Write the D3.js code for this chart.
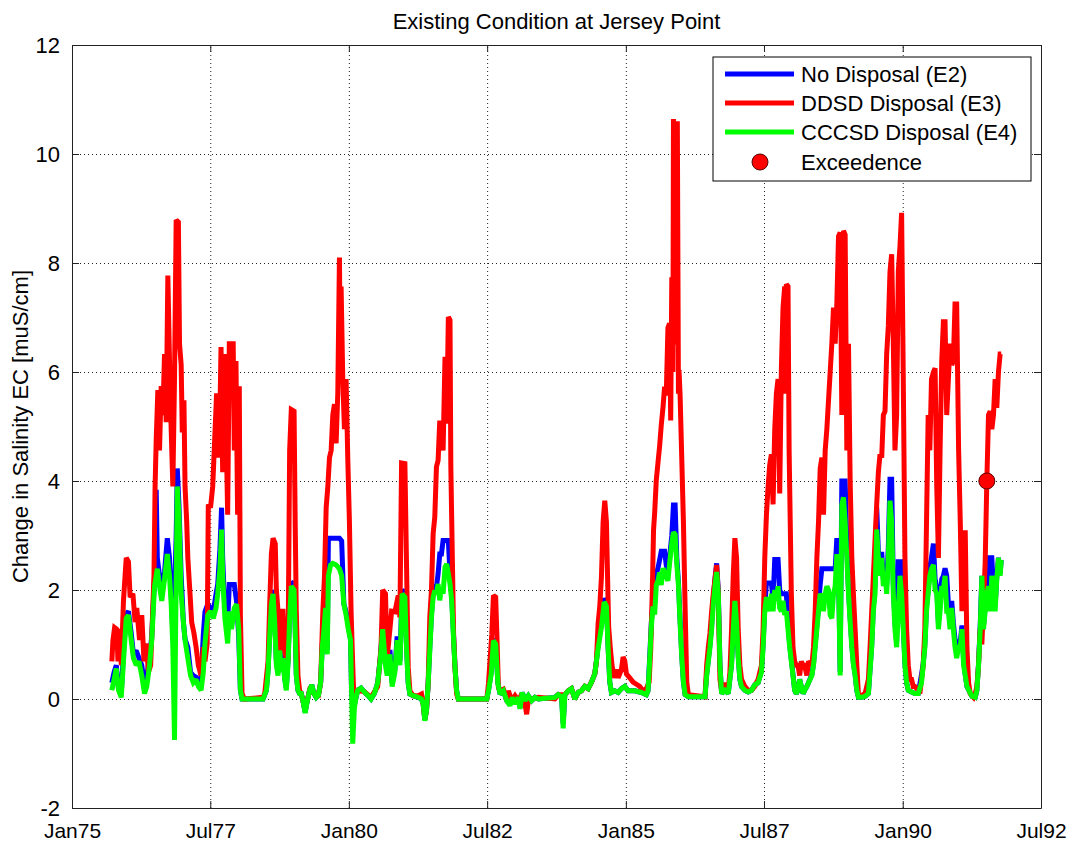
<!DOCTYPE html>
<html>
<head>
<meta charset="utf-8">
<script src="https://cdn.jsdelivr.net/npm/d3@7"></script>
<style>
  body { margin: 0; background: #fff; }
  text { font-family: Arial, "Liberation Sans", Helvetica, sans-serif; fill: #000; }
</style>
</head>
<body>
<svg id="chart" width="1074" height="844"></svg>
<script>
const TITLE = "Existing Condition at Jersey Point";
const Y_LABEL = "Change in Salinity EC [muS/cm]";
const SERIES_NAMES = ["No Disposal (E2)", "DDSD Disposal (E3)", "CCCSD Disposal (E4)"];
const MARKER_NAME = "Exceedence";
const X_TICKS = [[1975, 0], [1977, 6], [1980, 0], [1982, 6], [1985, 0], [1987, 6], [1990, 0], [1992, 6]];
const Y_TICKS = [-2, 0, 2, 4, 6, 8, 10, 12];

// [decimal year, change in EC]
const e2Points = [
  [1975.72,0.30],[1975.76,0.49],[1975.80,0.62],[1975.84,0.20],[1975.89,0.10],[1975.93,0.85],[1975.98,1.55],[1976.02,1.61],
  [1976.07,1.21],[1976.11,0.82],[1976.16,0.89],[1976.21,0.75],[1976.26,0.62],[1976.31,0.23],[1976.35,0.43],[1976.40,0.75],
  [1976.44,1.15],[1976.49,2.26],[1976.52,3.84],[1976.54,2.59],[1976.58,2.26],[1976.62,2.00],[1976.67,2.33],[1976.72,2.95],
  [1976.76,2.59],[1976.79,1.93],[1976.82,1.20],[1976.85,1.93],[1976.88,3.00],[1976.90,4.23],[1976.93,3.57],[1976.97,2.26],
  [1977.01,1.41],[1977.04,1.10],[1977.09,0.95],[1977.14,0.49],[1977.19,0.43],[1977.24,0.40],[1977.28,0.30],[1977.33,0.36],
  [1977.37,1.18],[1977.40,1.60],[1977.45,1.74],[1977.50,1.67],[1977.55,1.60],[1977.60,1.93],[1977.63,2.10],[1977.67,2.75],
  [1977.70,3.51],[1977.72,2.59],[1977.76,1.61],[1977.81,1.41],[1977.84,2.10],[1977.88,2.10],[1977.93,2.10],[1977.97,1.80],
  [1978.01,1.15],[1978.04,0.16],[1978.07,0.00],[1978.45,0.00],[1978.51,0.16],[1978.54,0.55],[1978.57,1.20],[1978.60,1.80],
  [1978.63,2.00],[1978.66,1.50],[1978.69,0.70],[1978.72,0.50],[1978.75,0.95],[1978.78,0.55],[1978.81,0.80],[1978.84,0.40],
  [1978.87,0.20],[1978.90,0.70],[1978.93,1.55],[1978.96,2.15],[1979.01,2.10],[1979.03,1.35],[1979.05,0.45],[1979.08,0.16],
  [1979.11,0.10],[1979.14,0.10],[1979.17,-0.03],[1979.21,-0.24],[1979.25,-0.03],[1979.29,0.16],[1979.33,0.26],[1979.37,0.10],
  [1979.41,0.03],[1979.45,0.07],[1979.49,0.30],[1979.52,1.00],[1979.55,1.35],[1979.58,1.75],[1979.61,0.90],[1979.63,2.95],
  [1979.67,2.95],[1979.71,2.95],[1979.77,2.95],[1979.83,2.95],[1979.87,2.90],[1979.91,1.74],[1979.95,1.60],[1979.99,1.35],
  [1980.03,1.10],[1980.05,0.10],[1980.07,-0.10],[1980.10,-0.10],[1980.13,0.03],[1980.16,0.16],[1980.22,0.20],[1980.28,0.13],
  [1980.34,0.07],[1980.40,0.00],[1980.46,0.10],[1980.52,0.30],[1980.57,0.80],[1980.61,1.35],[1980.66,0.70],[1980.69,0.50],
  [1980.74,0.90],[1980.78,0.30],[1980.83,0.55],[1980.87,1.15],[1980.92,0.70],[1980.96,2.00],[1981.01,1.95],[1981.04,0.95],
  [1981.07,0.30],[1981.10,0.09],[1981.16,0.06],[1981.25,0.03],[1981.31,0.00],[1981.34,-0.09],[1981.37,-0.38],[1981.40,-0.21],
  [1981.43,0.28],[1981.46,0.95],[1981.49,1.55],[1981.52,1.95],[1981.55,2.10],[1981.58,2.05],[1981.61,2.30],[1981.64,2.66],
  [1981.67,2.66],[1981.70,2.91],[1981.735,2.91],[1981.765,2.91],[1981.795,2.91],[1981.825,2.30],[1981.855,1.90],[1981.885,1.25],
  [1981.915,0.60],[1981.945,0.15],[1981.975,0.00],[1982.49,0.00],[1982.52,0.15],[1982.57,0.50],[1982.61,1.10],[1982.65,1.05],
  [1982.69,0.30],[1982.73,0.09],[1982.79,0.15],[1982.85,-0.03],[1982.91,-0.10],[1982.95,0.03],[1983.00,-0.09],[1983.06,0.03],
  [1983.09,-0.15],[1983.13,0.12],[1983.18,-0.03],[1983.24,0.06],[1983.30,-0.03],[1983.36,0.03],[1983.42,0.00],[1983.72,0.03],
  [1983.78,0.08],[1983.84,0.04],[1983.87,-0.45],[1983.90,0.08],[1983.96,0.15],[1984.02,0.19],[1984.08,0.00],[1984.14,0.12],
  [1984.20,0.15],[1984.26,0.23],[1984.32,0.19],[1984.38,0.31],[1984.44,0.46],[1984.47,0.70],[1984.50,1.00],[1984.56,1.40],
  [1984.61,1.85],[1984.65,1.75],[1984.68,0.95],[1984.71,0.31],[1984.74,0.12],[1984.80,0.15],[1984.86,0.12],[1984.92,0.19],
  [1984.98,0.23],[1985.04,0.15],[1985.16,0.15],[1985.28,0.12],[1985.37,0.08],[1985.40,0.15],[1985.43,0.75],[1985.46,1.40],
  [1985.49,1.80],[1985.52,1.75],[1985.55,2.30],[1985.58,2.40],[1985.61,2.55],[1985.64,2.71],[1985.67,2.71],[1985.70,2.71],
  [1985.73,2.45],[1985.76,2.30],[1985.79,2.60],[1985.83,3.00],[1985.86,3.56],[1985.89,3.56],[1985.92,2.60],[1985.95,2.15],
  [1985.98,1.45],[1986.01,0.80],[1986.04,0.31],[1986.07,0.08],[1986.13,0.04],[1986.43,0.04],[1986.46,0.45],[1986.49,0.72],
  [1986.52,1.00],[1986.55,1.35],[1986.58,1.85],[1986.61,2.20],[1986.64,2.49],[1986.67,2.00],[1986.70,0.65],[1986.73,0.10],
  [1986.79,0.16],[1986.85,0.10],[1986.91,0.65],[1986.94,1.35],[1986.97,1.85],[1987.00,1.45],[1987.03,0.80],[1987.06,0.36],
  [1987.09,0.23],[1987.15,0.16],[1987.21,0.13],[1987.27,0.16],[1987.33,0.26],[1987.39,0.30],[1987.45,0.52],[1987.48,1.00],
  [1987.51,1.70],[1987.54,2.13],[1987.57,2.13],[1987.60,2.13],[1987.63,2.13],[1987.66,1.80],[1987.69,2.56],[1987.72,2.56],
  [1987.75,2.56],[1987.78,2.00],[1987.81,1.93],[1987.84,1.93],[1987.87,1.93],[1987.90,1.93],[1987.93,1.40],[1987.96,1.00],
  [1987.99,0.72],[1988.02,0.45],[1988.05,0.16],[1988.08,0.10],[1988.11,0.16],[1988.14,0.36],[1988.17,0.23],[1988.20,0.10],
  [1988.23,0.16],[1988.27,0.23],[1988.30,0.30],[1988.36,0.45],[1988.39,0.65],[1988.42,1.00],[1988.45,1.35],[1988.48,1.70],
  [1988.51,2.10],[1988.54,2.39],[1988.57,2.39],[1988.60,2.39],[1988.63,2.39],[1988.66,2.39],[1988.69,2.39],[1988.72,2.39],
  [1988.75,2.39],[1988.78,2.39],[1988.81,2.95],[1988.84,2.40],[1988.87,0.50],[1988.90,4.00],[1988.93,4.00],[1988.96,4.00],
  [1988.99,2.80],[1989.02,2.00],[1989.05,1.50],[1989.08,1.00],[1989.11,0.65],[1989.14,0.45],[1989.17,0.16],[1989.20,0.03],
  [1989.26,0.03],[1989.32,0.05],[1989.38,0.10],[1989.44,1.00],[1989.47,1.70],[1989.50,2.10],[1989.53,3.51],[1989.56,2.70],
  [1989.59,2.40],[1989.62,2.70],[1989.65,2.20],[1989.68,2.45],[1989.71,2.10],[1989.74,2.80],[1989.77,4.03],[1989.80,4.03],
  [1989.83,2.10],[1989.86,1.40],[1989.89,1.05],[1989.92,2.52],[1989.95,2.52],[1989.98,2.52],[1990.01,1.35],[1990.04,0.65],
  [1990.07,0.30],[1990.10,0.16],[1990.16,0.13],[1990.22,0.10],[1990.28,0.10],[1990.34,0.45],[1990.37,0.65],[1990.40,1.00],
  [1990.43,1.70],[1990.46,2.00],[1990.49,2.40],[1990.52,2.60],[1990.555,2.85],[1990.585,2.20],[1990.615,2.05],[1990.645,1.40],
  [1990.675,1.75],[1990.705,2.20],[1990.735,2.26],[1990.765,2.40],[1990.795,2.26],[1990.825,1.75],[1990.855,1.40],[1990.885,1.80],
  [1990.915,1.40],[1990.945,1.10],[1990.975,0.85],[1991.01,1.05],[1991.04,1.05],[1991.07,1.35],[1991.10,0.70],[1991.13,0.45],
  [1991.16,0.23],[1991.25,0.05],[1991.31,0.03],[1991.34,0.16],[1991.37,0.65],[1991.40,1.35],[1991.43,2.26],[1991.46,1.35],
  [1991.49,1.70],[1991.52,2.00],[1991.55,2.59],[1991.58,2.59],[1991.61,2.59],[1991.64,2.00],[1991.67,1.70],[1991.70,2.25],
  [1991.73,2.59],[1991.76,2.30],[1991.78,2.55]
];

const e3Points = [
  [1975.72,0.69],[1975.74,1.08],[1975.77,1.31],[1975.81,1.28],[1975.83,0.69],[1975.86,1.28],[1975.89,0.62],[1975.93,1.80],
  [1975.98,2.59],[1976.02,2.52],[1976.05,1.87],[1976.10,1.93],[1976.14,1.41],[1976.17,1.67],[1976.22,1.08],[1976.26,1.54],
  [1976.30,0.69],[1976.34,1.02],[1976.38,0.49],[1976.42,0.62],[1976.45,1.41],[1976.48,2.26],[1976.50,3.90],[1976.52,4.75],
  [1976.55,5.67],[1976.58,4.56],[1976.61,5.74],[1976.64,5.21],[1976.67,6.33],[1976.70,5.08],[1976.73,7.77],[1976.76,6.20],
  [1976.79,4.95],[1976.82,3.90],[1976.85,5.87],[1976.88,8.79],[1976.92,8.75],[1976.94,6.52],[1976.97,6.13],[1976.99,4.89],
  [1977.02,5.48],[1977.04,3.90],[1977.07,3.25],[1977.09,2.59],[1977.13,1.93],[1977.16,1.41],[1977.20,1.21],[1977.24,0.95],
  [1977.28,0.62],[1977.33,0.43],[1977.37,0.95],[1977.40,0.69],[1977.44,1.02],[1977.46,3.57],[1977.50,3.51],[1977.54,3.90],
  [1977.57,4.62],[1977.61,5.61],[1977.64,4.43],[1977.67,5.21],[1977.69,6.46],[1977.72,4.16],[1977.75,6.33],[1977.78,5.08],
  [1977.81,3.38],[1977.84,6.52],[1977.91,6.52],[1977.93,4.56],[1977.96,6.20],[1977.99,3.38],[1978.02,5.74],[1978.04,1.54],
  [1978.07,0.10],[1978.11,0.00],[1978.45,0.03],[1978.48,0.10],[1978.54,0.69],[1978.57,1.74],[1978.60,2.66],[1978.63,2.95],
  [1978.67,2.85],[1978.69,2.00],[1978.72,1.61],[1978.75,0.82],[1978.78,1.61],[1978.81,1.61],[1978.84,0.89],[1978.87,0.75],
  [1978.90,0.69],[1978.93,4.56],[1978.96,5.31],[1979.01,5.28],[1979.03,3.25],[1979.05,1.61],[1979.08,0.43],[1979.11,0.16],
  [1979.14,0.10],[1979.21,-0.20],[1979.29,0.16],[1979.37,0.10],[1979.45,0.07],[1979.49,0.30],[1979.50,0.62],[1979.53,1.61],
  [1979.56,2.26],[1979.59,3.51],[1979.62,3.90],[1979.65,4.43],[1979.68,4.56],[1979.71,5.21],[1979.74,5.41],[1979.77,4.69],
  [1979.80,5.61],[1979.83,8.10],[1979.845,6.20],[1979.86,7.57],[1979.89,5.87],[1979.92,4.95],[1979.95,5.87],[1979.98,4.43],
  [1980.01,3.25],[1980.04,1.61],[1980.07,0.62],[1980.09,0.03],[1980.16,0.16],[1980.28,0.13],[1980.40,0.03],[1980.52,0.23],
  [1980.58,0.95],[1980.61,2.00],[1980.66,1.93],[1980.69,0.75],[1980.74,1.28],[1980.77,1.61],[1980.83,1.60],[1980.89,1.90],
  [1980.92,1.50],[1980.95,4.33],[1981.01,4.32],[1981.04,2.42],[1981.07,0.58],[1981.10,0.15],[1981.16,0.06],[1981.25,0.06],
  [1981.31,0.09],[1981.34,-0.09],[1981.37,-0.37],[1981.40,-0.21],[1981.43,0.28],[1981.46,1.50],[1981.49,2.00],[1981.52,3.03],
  [1981.55,3.34],[1981.58,4.26],[1981.61,4.38],[1981.64,5.11],[1981.67,4.90],[1981.70,4.56],[1981.735,6.28],[1981.765,5.05],
  [1981.795,7.01],[1981.825,6.95],[1981.84,4.26],[1981.87,2.42],[1981.89,1.19],[1981.915,0.58],[1981.945,0.09],[1981.975,0.00],
  [1982.49,0.00],[1982.52,0.28],[1982.58,1.19],[1982.61,1.90],[1982.65,1.87],[1982.675,1.07],[1982.70,0.21],[1982.73,0.15],
  [1982.79,0.18],[1982.82,0.09],[1982.85,-0.03],[1982.88,0.15],[1982.94,-0.03],[1983.00,0.06],[1983.06,-0.03],[1983.12,0.09],
  [1983.18,-0.09],[1983.21,-0.28],[1983.24,-0.03],[1983.30,0.00],[1983.42,0.03],[1983.72,0.00],[1983.78,0.08],[1983.90,0.08],
  [1983.96,0.15],[1984.02,0.19],[1984.08,0.00],[1984.14,0.12],[1984.20,0.15],[1984.26,0.23],[1984.32,0.19],[1984.38,0.31],
  [1984.44,0.46],[1984.47,0.70],[1984.50,1.39],[1984.53,1.70],[1984.56,2.24],[1984.59,3.25],[1984.62,3.64],[1984.65,3.25],
  [1984.67,2.24],[1984.69,1.32],[1984.72,0.93],[1984.75,0.62],[1984.79,0.39],[1984.83,0.54],[1984.86,0.39],[1984.92,0.54],
  [1984.95,0.77],[1984.98,0.70],[1985.01,0.46],[1985.07,0.39],[1985.13,0.31],[1985.19,0.27],[1985.25,0.23],[1985.31,0.15],
  [1985.37,0.19],[1985.42,0.31],[1985.45,0.93],[1985.48,2.09],[1985.50,3.10],[1985.52,3.41],[1985.55,4.02],[1985.58,4.33],
  [1985.61,4.64],[1985.64,5.03],[1985.67,5.34],[1985.70,5.73],[1985.73,5.57],[1985.76,6.81],[1985.79,6.89],[1985.81,5.11],
  [1985.83,7.74],[1985.85,6.00],[1985.86,10.64],[1985.88,6.50],[1985.90,9.50],[1985.91,7.20],[1985.93,10.60],[1985.95,5.60],
  [1985.96,6.04],[1985.98,5.57],[1986.01,4.41],[1986.04,3.25],[1986.07,1.70],[1986.10,0.31],[1986.13,0.08],[1986.43,0.04],
  [1986.46,0.62],[1986.49,0.95],[1986.52,1.21],[1986.55,1.61],[1986.58,1.93],[1986.61,2.20],[1986.64,2.46],[1986.67,1.93],
  [1986.70,0.36],[1986.73,0.16],[1986.76,0.30],[1986.79,0.10],[1986.82,0.30],[1986.85,0.16],[1986.88,0.49],[1986.91,1.28],
  [1986.94,2.26],[1986.97,2.95],[1987.00,2.59],[1987.03,1.28],[1987.06,0.62],[1987.09,0.36],[1987.15,0.23],[1987.21,0.16],
  [1987.27,0.16],[1987.33,0.23],[1987.36,0.30],[1987.39,0.36],[1987.45,0.62],[1987.48,1.28],[1987.51,2.59],[1987.54,3.38],
  [1987.57,3.90],[1987.60,4.30],[1987.63,4.49],[1987.66,3.57],[1987.69,4.95],[1987.72,5.61],[1987.75,5.87],[1987.78,3.77],
  [1987.81,6.07],[1987.84,7.18],[1987.87,7.57],[1987.885,5.60],[1987.90,7.61],[1987.93,7.57],[1987.95,4.56],[1987.97,3.25],
  [1987.99,1.93],[1988.02,0.95],[1988.05,0.69],[1988.08,0.62],[1988.11,0.62],[1988.14,0.43],[1988.17,0.69],[1988.20,0.62],
  [1988.23,0.62],[1988.27,0.43],[1988.30,0.69],[1988.36,0.62],[1988.39,0.95],[1988.42,1.61],[1988.45,2.59],[1988.48,3.25],
  [1988.51,4.23],[1988.54,4.43],[1988.57,3.38],[1988.60,4.56],[1988.63,4.95],[1988.66,5.48],[1988.69,6.00],[1988.72,6.52],
  [1988.75,7.18],[1988.78,6.52],[1988.81,7.25],[1988.84,8.49],[1988.87,8.56],[1988.90,5.21],[1988.93,8.59],[1988.96,8.52],
  [1988.99,4.56],[1989.02,6.52],[1989.05,4.00],[1989.08,2.60],[1989.11,1.90],[1989.14,1.28],[1989.17,0.62],[1989.20,0.07],
  [1989.26,0.07],[1989.32,0.10],[1989.38,0.36],[1989.41,0.95],[1989.44,1.61],[1989.47,2.26],[1989.50,2.92],[1989.53,3.57],
  [1989.56,4.16],[1989.59,4.49],[1989.62,4.43],[1989.65,5.21],[1989.68,5.28],[1989.71,6.33],[1989.74,6.85],[1989.77,7.84],
  [1989.80,8.16],[1989.83,6.52],[1989.86,4.56],[1989.89,5.21],[1989.92,7.84],[1989.95,8.30],[1989.98,8.92],[1990.01,5.87],
  [1990.04,2.59],[1990.07,1.28],[1990.10,0.62],[1990.13,0.36],[1990.16,0.36],[1990.19,0.23],[1990.22,0.23],[1990.28,0.16],
  [1990.31,0.10],[1990.34,0.36],[1990.37,0.62],[1990.40,1.28],[1990.43,3.25],[1990.46,5.21],[1990.49,4.56],[1990.52,5.87],
  [1990.555,6.00],[1990.585,6.07],[1990.615,3.90],[1990.645,2.59],[1990.675,4.56],[1990.705,6.20],[1990.735,6.92],[1990.765,6.92],
  [1990.795,5.21],[1990.825,5.87],[1990.855,6.52],[1990.885,6.13],[1990.915,6.20],[1990.945,7.25],[1990.975,7.25],[1991.01,4.56],
  [1991.04,3.25],[1991.07,1.61],[1991.10,3.05],[1991.13,3.05],[1991.16,0.95],[1991.19,0.30],[1991.22,0.10],[1991.28,0.03],
  [1991.31,0.10],[1991.34,0.23],[1991.37,0.62],[1991.40,1.28],[1991.43,1.00],[1991.49,2.50],[1991.52,4.00],[1991.55,5.21],
  [1991.58,5.28],[1991.61,4.95],[1991.64,5.21],[1991.67,5.87],[1991.70,5.34],[1991.73,6.00],[1991.76,6.33],[1991.78,6.33]
];

const e4Points = [
  [1975.72,0.16],[1975.76,0.36],[1975.80,0.56],[1975.84,0.16],[1975.89,0.03],[1975.93,0.69],[1975.98,1.48],[1976.02,1.54],
  [1976.07,1.08],[1976.11,0.75],[1976.16,0.62],[1976.21,0.69],[1976.26,0.43],[1976.31,0.10],[1976.35,0.23],[1976.40,0.62],
  [1976.44,1.08],[1976.49,2.07],[1976.54,2.39],[1976.58,2.07],[1976.62,1.80],[1976.67,2.20],[1976.72,2.66],[1976.76,2.26],
  [1976.79,1.74],[1976.82,0.95],[1976.85,-0.75],[1976.87,1.28],[1976.90,3.90],[1976.93,3.38],[1976.97,1.93],[1977.01,1.41],
  [1977.04,1.08],[1977.09,0.75],[1977.14,0.43],[1977.19,0.30],[1977.24,0.36],[1977.28,0.23],[1977.33,0.16],[1977.37,0.49],
  [1977.40,1.02],[1977.45,1.54],[1977.50,1.61],[1977.55,1.48],[1977.60,1.67],[1977.63,1.93],[1977.67,2.39],[1977.70,3.11],
  [1977.72,2.26],[1977.76,1.48],[1977.81,1.02],[1977.84,1.61],[1977.88,1.28],[1977.93,1.67],[1977.97,1.74],[1978.01,1.28],
  [1978.04,0.16],[1978.07,0.00],[1978.45,0.00],[1978.51,0.16],[1978.54,0.49],[1978.57,1.15],[1978.60,1.74],[1978.63,1.93],
  [1978.66,1.41],[1978.69,0.62],[1978.72,0.43],[1978.75,0.89],[1978.78,0.49],[1978.81,0.75],[1978.84,0.36],[1978.87,0.16],
  [1978.90,0.62],[1978.93,1.48],[1978.96,2.07],[1979.01,2.00],[1979.03,1.28],[1979.05,0.43],[1979.08,0.16],[1979.11,0.10],
  [1979.14,0.10],[1979.17,-0.03],[1979.21,-0.26],[1979.25,-0.03],[1979.29,0.16],[1979.33,0.26],[1979.37,0.10],[1979.41,0.03],
  [1979.45,0.07],[1979.49,0.30],[1979.52,0.95],[1979.55,1.28],[1979.58,1.67],[1979.61,0.82],[1979.63,2.26],[1979.67,2.46],
  [1979.71,2.49],[1979.77,2.46],[1979.83,2.39],[1979.87,2.26],[1979.91,1.74],[1979.95,1.54],[1979.99,1.28],[1980.03,1.08],
  [1980.05,0.10],[1980.07,-0.82],[1980.10,-0.16],[1980.13,0.03],[1980.16,0.16],[1980.22,0.20],[1980.28,0.13],[1980.34,0.07],
  [1980.40,0.00],[1980.46,0.10],[1980.52,0.30],[1980.57,0.75],[1980.61,1.28],[1980.66,0.62],[1980.69,0.43],[1980.74,0.82],
  [1980.78,0.23],[1980.83,0.49],[1980.87,1.08],[1980.92,0.62],[1980.96,1.93],[1981.01,1.87],[1981.04,0.89],[1981.07,0.28],
  [1981.10,0.09],[1981.16,0.06],[1981.25,0.03],[1981.31,0.00],[1981.34,-0.09],[1981.37,-0.40],[1981.40,-0.21],[1981.43,0.28],
  [1981.46,0.89],[1981.49,1.50],[1981.52,1.87],[1981.55,1.99],[1981.58,1.93],[1981.61,2.11],[1981.64,1.81],[1981.67,2.05],
  [1981.70,1.93],[1981.735,2.42],[1981.765,2.48],[1981.795,2.30],[1981.825,2.11],[1981.855,1.81],[1981.885,1.19],[1981.915,0.58],
  [1981.945,0.15],[1981.975,0.00],[1982.49,0.00],[1982.52,0.15],[1982.57,0.46],[1982.61,1.07],[1982.65,1.01],[1982.69,0.28],
  [1982.73,0.09],[1982.79,0.15],[1982.85,-0.03],[1982.91,-0.12],[1982.95,0.03],[1983.00,-0.09],[1983.06,0.03],[1983.09,-0.18],
  [1983.13,0.12],[1983.18,-0.03],[1983.24,0.06],[1983.30,-0.03],[1983.36,0.03],[1983.42,0.00],[1983.72,0.03],[1983.78,0.08],
  [1983.84,0.04],[1983.87,-0.54],[1983.90,0.08],[1983.96,0.15],[1984.02,0.19],[1984.08,0.00],[1984.14,0.12],[1984.20,0.15],
  [1984.26,0.23],[1984.32,0.19],[1984.38,0.31],[1984.44,0.46],[1984.47,0.70],[1984.50,0.93],[1984.56,1.32],[1984.61,1.78],
  [1984.65,1.70],[1984.68,0.93],[1984.71,0.31],[1984.74,0.12],[1984.80,0.15],[1984.86,0.12],[1984.92,0.19],[1984.98,0.23],
  [1985.04,0.15],[1985.16,0.15],[1985.28,0.12],[1985.37,0.08],[1985.40,0.15],[1985.43,0.70],[1985.46,1.32],[1985.49,1.70],
  [1985.52,1.55],[1985.55,2.09],[1985.58,2.17],[1985.61,2.32],[1985.64,2.09],[1985.67,2.40],[1985.70,2.32],[1985.73,2.24],
  [1985.76,2.17],[1985.79,2.48],[1985.83,2.86],[1985.86,3.06],[1985.89,3.02],[1985.92,2.48],[1985.95,2.09],[1985.98,1.39],
  [1986.01,0.77],[1986.04,0.31],[1986.07,0.08],[1986.13,0.04],[1986.43,0.04],[1986.46,0.43],[1986.49,0.69],[1986.52,0.95],
  [1986.55,1.28],[1986.58,1.74],[1986.61,2.07],[1986.64,2.33],[1986.67,1.93],[1986.70,0.62],[1986.73,0.10],[1986.79,0.16],
  [1986.85,0.10],[1986.91,0.62],[1986.94,1.28],[1986.97,1.80],[1987.00,1.41],[1987.03,0.75],[1987.06,0.36],[1987.09,0.23],
  [1987.15,0.16],[1987.21,0.13],[1987.27,0.16],[1987.33,0.26],[1987.39,0.30],[1987.45,0.49],[1987.48,0.95],[1987.51,1.61],
  [1987.54,1.87],[1987.57,1.74],[1987.60,1.61],[1987.63,1.93],[1987.66,1.61],[1987.69,2.00],[1987.72,1.80],[1987.75,2.07],
  [1987.78,1.67],[1987.81,1.61],[1987.84,1.80],[1987.87,1.54],[1987.90,1.61],[1987.93,1.28],[1987.96,0.95],[1987.99,0.69],
  [1988.02,0.43],[1988.05,0.16],[1988.08,0.10],[1988.11,0.16],[1988.14,0.36],[1988.17,0.23],[1988.20,0.10],[1988.23,0.16],
  [1988.27,0.23],[1988.30,0.30],[1988.36,0.43],[1988.39,0.62],[1988.42,0.95],[1988.45,1.28],[1988.48,1.61],[1988.51,1.93],
  [1988.54,1.87],[1988.57,1.61],[1988.60,1.93],[1988.63,2.07],[1988.66,2.00],[1988.69,1.54],[1988.72,1.48],[1988.75,1.93],
  [1988.78,2.07],[1988.81,2.66],[1988.84,2.26],[1988.87,0.43],[1988.90,3.57],[1988.93,3.70],[1988.96,3.25],[1988.99,2.59],
  [1989.02,1.93],[1989.05,1.41],[1989.08,0.95],[1989.11,0.62],[1989.14,0.43],[1989.17,0.16],[1989.20,0.03],[1989.26,0.03],
  [1989.32,0.05],[1989.38,0.10],[1989.44,0.95],[1989.47,1.61],[1989.50,1.93],[1989.53,3.11],[1989.56,2.59],[1989.59,2.26],
  [1989.62,2.59],[1989.65,2.07],[1989.68,2.33],[1989.71,1.93],[1989.74,2.59],[1989.77,3.64],[1989.80,3.25],[1989.83,1.93],
  [1989.86,1.28],[1989.89,0.95],[1989.92,1.61],[1989.95,2.26],[1989.98,1.93],[1990.01,1.28],[1990.04,0.62],[1990.07,0.30],
  [1990.10,0.16],[1990.16,0.13],[1990.22,0.10],[1990.28,0.10],[1990.34,0.30],[1990.37,0.62],[1990.40,0.95],[1990.43,1.61],
  [1990.46,1.93],[1990.49,2.26],[1990.52,2.39],[1990.555,2.46],[1990.585,2.00],[1990.615,1.93],[1990.645,1.28],[1990.675,1.61],
  [1990.705,2.07],[1990.735,2.00],[1990.765,2.26],[1990.795,1.61],[1990.825,1.61],[1990.855,1.28],[1990.885,1.67],[1990.915,1.28],
  [1990.945,0.95],[1990.975,0.75],[1991.01,0.95],[1991.04,0.95],[1991.07,1.28],[1991.10,0.62],[1991.13,0.43],[1991.16,0.23],
  [1991.25,0.05],[1991.31,0.03],[1991.34,0.16],[1991.37,0.62],[1991.40,1.28],[1991.43,2.26],[1991.46,1.28],[1991.49,1.61],
  [1991.52,1.93],[1991.55,2.07],[1991.58,1.61],[1991.61,2.26],[1991.64,1.93],[1991.67,1.61],[1991.70,2.20],[1991.73,2.59],
  [1991.76,2.26],[1991.78,2.55]
];

const exceedencePoints = [[1991.52, 4.00]];

const SERIES_COLORS = ["#0000ff", "#ff0000", "#00ff00"];

const W = 1074, H = 844;
const plot = { left: 72, right: 1041, top: 45, bottom: 808 };

function yearToDate(t) {
    const yr = Math.floor(t);
    const a = new Date(yr, 0, 1), b = new Date(yr + 1, 0, 1);
    return new Date(a.getTime() + (t - yr) * (b - a));
}

function drawChart(svg) {
    const xTickDates = X_TICKS.map(d => new Date(d[0], d[1], 1));

    const x = d3.scaleTime()
        .domain([xTickDates[0], xTickDates[xTickDates.length - 1]])
        .range([plot.left, plot.right]);
    const y = d3.scaleLinear()
        .domain([Y_TICKS[0], Y_TICKS[Y_TICKS.length - 1]])
        .range([plot.bottom, plot.top]);

    const pw = plot.right - plot.left, ph = plot.bottom - plot.top;

    svg.append("rect")
        .attr("width", W).attr("height", H).attr("fill", "#fff");

    // dotted grid
    svg.append("g")
        .attr("class", "grid")
        .attr("transform", `translate(0,${plot.bottom})`)
        .call(d3.axisBottom(x).tickValues(xTickDates).tickSize(-ph).tickFormat(""))
        .call(g => g.select(".domain").remove());
    svg.append("g")
        .attr("class", "grid")
        .attr("transform", `translate(${plot.left},0)`)
        .call(d3.axisLeft(y).tickValues(Y_TICKS).tickSize(-pw).tickFormat(""))
        .call(g => g.select(".domain").remove());
    svg.selectAll(".grid line")
        .attr("stroke", "#333")
        .attr("stroke-width", 1)
        .attr("stroke-dasharray", "1,3");

    svg.append("clipPath").attr("id", "clip")
        .append("rect")
        .attr("x", plot.left).attr("y", plot.top)
        .attr("width", pw).attr("height", ph);

    const line = d3.line()
        .x(d => x(yearToDate(d[0])))
        .y(d => y(d[1]));

    const lines = svg.append("g").attr("clip-path", "url(#clip)");
    [e2Points, e3Points, e4Points].forEach((pts, i) => {
        lines.append("path")
            .datum(pts)
            .attr("fill", "none")
            .attr("stroke", SERIES_COLORS[i])
            .attr("stroke-width", 5)
            .attr("stroke-linejoin", "miter")
            .attr("stroke-miterlimit", 2)
            .attr("d", line);
    });

    lines.selectAll("circle.exc")
        .data(exceedencePoints)
        .enter().append("circle")
        .attr("class", "exc")
        .attr("cx", d => x(yearToDate(d[0])))
        .attr("cy", d => y(d[1]))
        .attr("r", 8)
        .attr("fill", "#ff0000")
        .attr("stroke", "#5a0000")
        .attr("stroke-width", 1);

    // axes, ticks pointing inward on all four sides
    const xAxis = svg.append("g")
        .attr("transform", `translate(0,${plot.bottom})`)
        .call(d3.axisBottom(x).tickValues(xTickDates)
            .tickFormat(d3.timeFormat("%b%y"))
            .tickSizeInner(-7).tickSizeOuter(0).tickPadding(15));
    const yAxis = svg.append("g")
        .attr("transform", `translate(${plot.left},0)`)
        .call(d3.axisLeft(y).tickValues(Y_TICKS)
            .tickFormat(d => String(d))
            .tickSizeInner(-7).tickSizeOuter(0).tickPadding(12));
    svg.append("g")
        .attr("transform", `translate(0,${plot.top})`)
        .call(d3.axisTop(x).tickValues(xTickDates).tickFormat("")
            .tickSizeInner(-7).tickSizeOuter(0));
    svg.append("g")
        .attr("transform", `translate(${plot.right},0)`)
        .call(d3.axisRight(y).tickValues(Y_TICKS).tickFormat("")
            .tickSizeInner(-7).tickSizeOuter(0));

    svg.selectAll(".domain, .tick line").attr("stroke", "#222");
    xAxis.selectAll("text").style("font-size", "21px").attr("fill", "#000");
    yAxis.selectAll("text").style("font-size", "22px").attr("fill", "#000");

    svg.append("text")
        .attr("x", (plot.left + plot.right) / 2)
        .attr("y", 29)
        .attr("text-anchor", "middle")
        .style("font-size", "22px")
        .text(TITLE);

    svg.append("text")
        .attr("transform", `translate(28,${(plot.top + plot.bottom) / 2})rotate(-90)`)
        .attr("text-anchor", "middle")
        .style("font-size", "22px")
        .text(Y_LABEL);

    // legend
    const legend = svg.append("g").attr("transform", "translate(713,57)");
    legend.append("rect")
        .attr("width", 318).attr("height", 124)
        .attr("fill", "#fff").attr("stroke", "#000").attr("stroke-width", 1);

    const rowY = [17, 46, 75, 105];
    SERIES_NAMES.forEach((name, i) => {
        legend.append("line")
            .attr("x1", 12).attr("x2", 81)
            .attr("y1", rowY[i]).attr("y2", rowY[i])
            .attr("stroke", SERIES_COLORS[i]).attr("stroke-width", 5);
        legend.append("text")
            .attr("x", 88).attr("y", rowY[i]).attr("dy", "0.36em")
            .style("font-size", "22px")
            .text(name);
    });
    legend.append("circle")
        .attr("cx", 47).attr("cy", rowY[3]).attr("r", 8)
        .attr("fill", "#ff0000").attr("stroke", "#5a0000").attr("stroke-width", 1);
    legend.append("text")
        .attr("x", 88).attr("y", rowY[3]).attr("dy", "0.36em")
        .style("font-size", "22px")
        .text(MARKER_NAME);
}

drawChart(d3.select("#chart"));
</script>
</body>
</html>
